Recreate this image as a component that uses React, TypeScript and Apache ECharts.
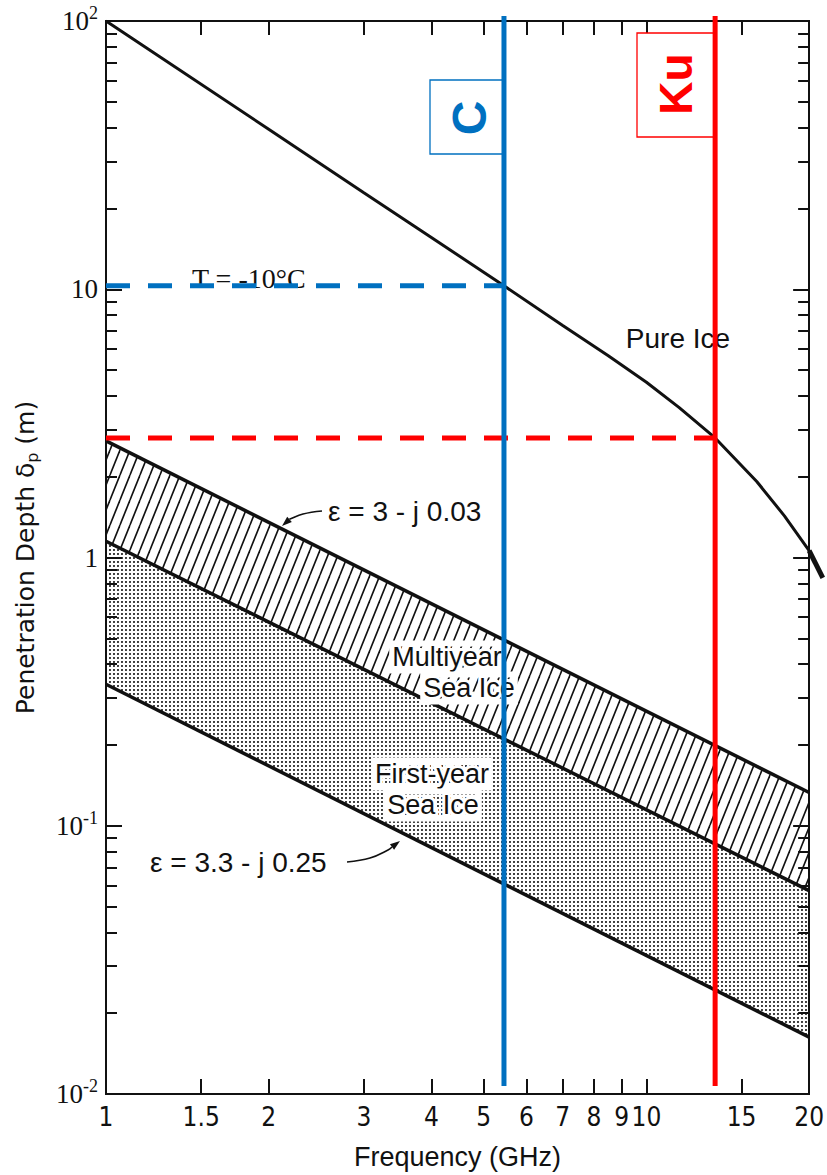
import React, { useEffect, useRef } from "react";
import * as echarts from "echarts";

// ---------------- data ----------------
const bandFreq = [1, 20]; // GHz, ends of the straight (log-log) sea-ice boundaries
const eps3Depth = [2.72, 0.133]; // ε = 3 - j0.03 (upper edge, multiyear)
const divideDepth = [1.15, 0.0573]; // multiyear / first-year boundary
const eps33Depth = [0.337, 0.0163]; // ε = 3.3 - j0.25 (lower edge, first-year)

const pureIceFreq = [1, 2, 3, 4, 5.45, 7, 8.5, 10, 11.5, 13.4, 16, 18, 20];
const pureIceDepth = [100, 39.5, 22.9, 15.6, 10.3, 7.33, 5.65, 4.5, 3.62, 2.79, 1.92, 1.43, 1.06];
const pureIceTailFreq = [20, 21.2];
const pureIceTailDepth = [1.06, 0.84];

const cBandFreq = 5.45;
const cBandDepth = 10.3;
const kuBandFreq = 13.4;
const kuBandDepth = 2.79;
const markerSpan = [104.4, 0.0107];

const xTickValues = [1.5, 2, 3, 4, 5, 6, 7, 8, 9, 10, 15];
const xLabelValues = [1, 1.5, 2, 3, 4, 5, 6, 7, 8, 9, 10, 15, 20];
const yMinorValues = [
  0.02, 0.03, 0.04, 0.05, 0.06, 0.07, 0.08, 0.09,
  0.2, 0.3, 0.4, 0.5, 0.6, 0.7, 0.8, 0.9,
  2, 3, 4, 5, 6, 7, 8, 9,
  20, 30, 40, 50, 60, 70, 80, 90,
];

// ---------------- styling ----------------
const INK = "#111";
const BLUE = "#0070C0";
const RED = "#FF0000";
const SANS = '"Liberation Sans", Arial, sans-serif';
const NARROW = '"Liberation Sans Narrow", "DejaVu Sans Condensed", "Liberation Sans", sans-serif';
const SERIF = '"Liberation Serif", "DejaVu Serif", serif';

const zip = (xs: number[], ys: number[]) => xs.map((x, i) => [x, ys[i]]);

function hatchPattern() {
  const c = document.createElement("canvas");
  c.width = 10;
  c.height = 25;
  const ctx = c.getContext("2d")!;
  ctx.fillStyle = "#fff";
  ctx.fillRect(0, 0, 10, 25);
  ctx.strokeStyle = "#111";
  ctx.lineWidth = 1.6;
  for (const o of [-10, 0, 10]) {
    ctx.beginPath();
    ctx.moveTo(o, 25);
    ctx.lineTo(o + 10, 0);
    ctx.stroke();
  }
  return { image: c.toDataURL(), repeat: "repeat", imageWidth: 10, imageHeight: 25 };
}

function dotPattern() {
  const c = document.createElement("canvas");
  c.width = 4;
  c.height = 4;
  const ctx = c.getContext("2d")!;
  ctx.fillStyle = "#fff";
  ctx.fillRect(0, 0, 4, 4);
  ctx.fillStyle = "#111";
  ctx.beginPath();
  ctx.arc(2, 2, 1.05, 0, Math.PI * 2);
  ctx.fill();
  return { image: c.toDataURL(), repeat: "repeat", imageWidth: 4, imageHeight: 4 };
}

function arrow(points: number[][], color = INK) {
  const n = points.length;
  const tip = points[n - 1];
  const prev = points[n - 2];
  const dx = tip[0] - prev[0];
  const dy = tip[1] - prev[1];
  const L = Math.hypot(dx, dy) || 1;
  const ux = dx / L, uy = dy / L;
  const len = 10, hw = 3.5;
  const bx = tip[0] - ux * len, by = tip[1] - uy * len;
  return [
    {
      type: "polyline",
      z: 6,
      shape: { points: points.slice(0, n - 1).concat([[bx, by]]), smooth: 0.4 },
      style: { stroke: color, lineWidth: 1.6, fill: null },
    },
    {
      type: "polygon",
      z: 6,
      shape: { points: [tip, [bx - uy * hw, by + ux * hw], [bx + uy * hw, by - ux * hw]] },
      style: { fill: color },
    },
  ];
}

function label(text: string, x: number, y: number, opts: any = {}) {
  return {
    type: "text",
    x,
    y,
    z: opts.z || 5,
    rotation: opts.rotation || 0,
    style: {
      text,
      font: opts.font || `28px ${SANS}`,
      fill: opts.fill || INK,
      align: opts.align || "center",
      verticalAlign: "middle",
      textAlign: opts.align || "center",
      textVerticalAlign: "middle",
      stroke: opts.halo ? "#fff" : undefined,
      lineWidth: opts.halo ? 6 : 0,
      textBorderColor: opts.halo ? "#fff" : undefined,
      textBorderWidth: opts.halo ? 6 : 0,
    },
  };
}

function buildOption(hatch: any, dots: any) {
  const axisLine = { show: true, onZero: false, lineStyle: { color: INK, width: 2 } };
  const tickStyle = { color: INK, width: 2 };

  const yLabel = (v: number) => {
    const e = Math.round(Math.log10(v));
    if (e === 0) return "{m|1}";
    if (e === 1) return "{m|10}";
    return `{m|10}{s|${e}}`;
  };
  const yRich = {
    m: { fontFamily: SERIF, fontSize: 27, color: INK, lineHeight: 34 },
    s: { fontFamily: SERIF, fontSize: 18, color: INK, verticalAlign: "top" },
  };

  const yBase = {
    type: "log",
    logBase: 10,
    min: 0.01,
    max: 100,
    gridIndex: 0,
    z: 3,
    splitLine: { show: false },
    minorTick: { show: false },
    axisLine,
  };
  const xBase = {
    type: "log",
    logBase: 10,
    min: 1,
    max: 20,
    gridIndex: 0,
    z: 3,
    splitLine: { show: false },
    minorTick: { show: false },
    axisLine,
  };

  const bandSeries = (name: string, upper: number[], lower: number[], fill: any) => ({
    type: "custom",
    name,
    z: 1,
    silent: true,
    data: [[bandFreq[0], upper[0]]],
    renderItem: (_p: any, api: any) => {
      const pts: number[][] = [];
      for (let i = 0; i < bandFreq.length; i++) pts.push(api.coord([bandFreq[i], upper[i]]));
      for (let i = bandFreq.length - 1; i >= 0; i--) pts.push(api.coord([bandFreq[i], lower[i]]));
      return { type: "polygon", shape: { points: pts }, style: { fill, stroke: null } };
    },
  });

  // short continuation of the pure-ice curve past the right frame
  const tailSeries = {
    type: "custom",
    name: "Pure Ice (continued)",
    z: 4,
    silent: true,
    clip: false,
    data: [[pureIceTailFreq[0], pureIceTailDepth[0]]],
    renderItem: (_p: any, api: any) => {
      const a = api.coord([pureIceTailFreq[0], pureIceTailDepth[0]]);
      const b = api.coord([pureIceTailFreq[1], pureIceTailDepth[1]]);
      return {
        type: "line",
        shape: { x1: a[0], y1: a[1], x2: b[0], y2: b[1] },
        style: { stroke: INK, lineWidth: 5, lineCap: "butt" },
      };
    },
  };

  const line = (name: string, data: number[][], color: string, width: number, extra: any = {}) => ({
    type: "line",
    name,
    data,
    symbol: "none",
    showSymbol: false,
    silent: true,
    z: 4,
    lineStyle: { color, width, cap: "butt" },
    ...extra,
  });

  return {
    animation: false,
    backgroundColor: "#fff",
    textStyle: { fontFamily: SANS },
    grid: { left: 106, right: 14, top: 21, bottom: 78, containLabel: false },
    xAxis: [
      {
        ...xBase,
        position: "bottom",
        axisTick: { show: true, inside: true, length: 15, customValues: xTickValues, lineStyle: tickStyle },
        axisLabel: {
          show: true,
          customValues: xLabelValues,
          formatter: (v: number) => String(Math.round(v * 10) / 10),
          fontFamily: NARROW,
          fontSize: 26,
          color: INK,
          margin: 10,
        },
        name: "Frequency (GHz)",
        nameLocation: "middle",
        nameGap: 49,
        nameTextStyle: { fontFamily: SANS, fontSize: 27, color: INK },
      },
      {
        ...xBase,
        position: "top",
        axisTick: { show: true, inside: true, length: 14, customValues: xTickValues, lineStyle: tickStyle },
        axisLabel: { show: false },
      },
    ],
    yAxis: [
      {
        ...yBase,
        position: "left",
        axisTick: { show: true, inside: true, length: 16, lineStyle: tickStyle },
        axisLabel: { show: true, formatter: yLabel, rich: yRich, margin: 8 },
        name: "Penetration Depth δ{sub|p} (m)",
        nameLocation: "middle",
        nameRotate: 90,
        nameGap: 66,
        nameTextStyle: {
          fontFamily: '"DejaVu Sans", sans-serif',
          fontSize: 25,
          color: INK,
          lineHeight: 30,
          rich: { sub: { fontFamily: '"DejaVu Sans", sans-serif', fontSize: 16, color: INK, verticalAlign: "bottom" } },
        },
      },
      {
        ...yBase,
        position: "left",
        axisTick: { show: true, inside: true, length: 11, customValues: yMinorValues, lineStyle: tickStyle },
        axisLabel: { show: false },
      },
      {
        ...yBase,
        position: "right",
        axisTick: { show: true, inside: true, length: 16, lineStyle: tickStyle },
        axisLabel: { show: false },
      },
      {
        ...yBase,
        position: "right",
        axisTick: { show: true, inside: true, length: 11, customValues: yMinorValues, lineStyle: tickStyle },
        axisLabel: { show: false },
      },
    ],
    series: [
      bandSeries("Multiyear Sea Ice", eps3Depth, divideDepth, hatch),
      bandSeries("First-year Sea Ice", divideDepth, eps33Depth, dots),
      line("ε = 3 - j0.03", zip(bandFreq, eps3Depth), INK, 3.5),
      line("Sea ice boundary", zip(bandFreq, divideDepth), INK, 3.5),
      line("ε = 3.3 - j0.25", zip(bandFreq, eps33Depth), INK, 3.5),
      line("Pure Ice", zip(pureIceFreq, pureIceDepth), INK, 3, { smooth: false }),
      tailSeries,
      line("C depth", [[1, cBandDepth], [cBandFreq, cBandDepth]], BLUE, 5, {
        z: 8,
        lineStyle: { color: BLUE, width: 5, type: [24, 18], cap: "butt" },
      }),
      line("Ku depth", [[1, kuBandDepth], [kuBandFreq, kuBandDepth]], RED, 5, {
        z: 8,
        lineStyle: { color: RED, width: 5, type: [24, 18], cap: "butt" },
      }),
      line("C band", [[cBandFreq, markerSpan[0]], [cBandFreq, markerSpan[1]]], BLUE, 5, { z: 10, clip: false }),
      line("Ku band", [[kuBandFreq, markerSpan[0]], [kuBandFreq, markerSpan[1]]], RED, 5, { z: 10, clip: false }),
    ],
    graphic: {
      elements: [
        { type: "rect", z: 9, shape: { x: 430, y: 80, width: 74, height: 74 }, style: { fill: "#fff", stroke: BLUE, lineWidth: 1.3 } },
        label("C", 469, 118, { rotation: Math.PI / 2, fill: BLUE, font: `bold 48px ${SANS}`, z: 11 }),
        { type: "rect", z: 9, shape: { x: 637, y: 33, width: 78, height: 104 }, style: { fill: "#fff", stroke: RED, lineWidth: 1.3 } },
        label("Ku", 676, 84, { rotation: Math.PI / 2, fill: RED, font: `bold 46px ${SANS}`, z: 11 }),
        label("T = -10°C", 192, 278, { align: "left", font: `28px ${SERIF}` }),
        label("Pure Ice", 678, 338),
        label("ε = 3 - j 0.03", 328, 511, { align: "left" }),
        label("Multiyear", 447, 657, { halo: true, font: `27px ${SANS}` }),
        label("Sea Ice", 469, 688, { halo: true, font: `27px ${SANS}` }),
        label("First-year", 432, 774, { halo: true, font: `27px ${SANS}` }),
        label("Sea Ice", 433, 805, { halo: true, font: `27px ${SANS}` }),
        label("ε = 3.3 - j 0.25", 150, 862, { align: "left" }),
        ...arrow([[322, 511], [303, 514], [290, 519], [282, 526]]),
        ...arrow([[347, 862], [370, 858], [388, 850], [400, 841]]),
      ],
    },
  };
}

export default function App() {
  const ref = useRef<HTMLDivElement>(null);
  useEffect(() => {
    if (!ref.current) return;
    const chart = echarts.init(ref.current, null, { renderer: "svg" });
    chart.setOption(buildOption(hatchPattern(), dotPattern()) as any);
    return () => chart.dispose();
  }, []);
  return (
    <div
      ref={ref}
      style={{ position: "fixed", left: 0, top: 0, width: 827, height: 1175, background: "#fff" }}
    />
  );
}
